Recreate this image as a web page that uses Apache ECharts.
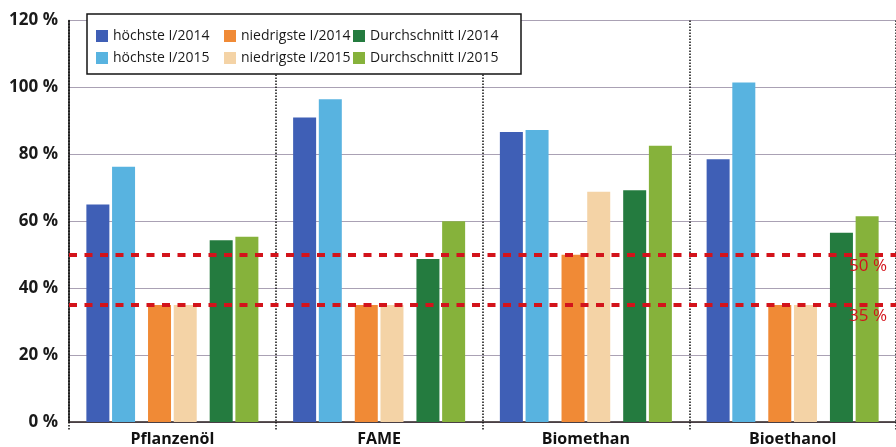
<!DOCTYPE html>
<html>
<head>
<meta charset="utf-8">
<script src="https://cdn.jsdelivr.net/npm/echarts@6/dist/echarts.min.js"></script>
<style>
  html, body { margin: 0; padding: 0; background: #fff; }
  #chart { width: 896px; height: 447px; }
</style>
</head>
<body>
<div id="chart"></div>
<script>
// Fuel categories and shares (in %) for quarter I/2014 and I/2015
const categories = ['Pflanzenöl', 'FAME', 'Biomethan', 'Bioethanol'];
const hoechste2014 = [65, 91, 86.7, 78.5];
const hoechste2015 = [76.3, 96.5, 87.3, 101.5];
const niedrigste2014 = [35, 35, 50, 35];
const niedrigste2015 = [35, 35, 68.8, 35];
const durchschnitt2014 = [54.3, 48.7, 69.3, 56.6];
const durchschnitt2015 = [55.4, 60, 82.6, 61.5];
// Reference thresholds drawn as red dashed lines
const thresholds = [50, 35];
const yTicks = { min: 0, max: 120, step: 20 };

const BAR_W = 23;
const GAP = '11.7%';
const font = '"Open Sans", "Noto Sans", sans-serif';

function barSeries(name, data, color, extra) {
  return Object.assign({
    name: name,
    type: 'bar',
    data: data,
    barWidth: BAR_W,
    barGap: GAP,
    itemStyle: { color: color },
    emphasis: { disabled: true }
  }, extra || {});
}

// Narrow empty series that open a wider gap between bar pairs
function spacer(name) {
  return { name: name, type: 'bar', data: [], barWidth: 9.2, barGap: GAP, silent: true };
}

const thresholdLines = {
  silent: true,
  symbol: 'none',
  lineStyle: { color: '#d3131b', width: 4, type: [8, 7.5] },
  label: {
    position: 'insideEndBottom',
    formatter: '{c} %',
    color: '#d3131b',
    fontSize: 17,
    fontFamily: font,
    distance: [9, 3]
  },
  data: thresholds.map(v => ({ yAxis: v }))
};

const legendBase = {
  orient: 'vertical',
  top: 29,
  padding: 0,
  itemWidth: 12,
  itemHeight: 12,
  itemGap: 8,
  icon: 'rect',
  selectedMode: false,
  textStyle: { fontSize: 14, color: '#1a1a1a', fontFamily: font }
};

const chart = echarts.init(document.getElementById('chart'), null, { renderer: 'canvas' });
chart.setOption({
  backgroundColor: '#fff',
  animation: false,
  grid: { left: 69, top: 20.5, width: 831, height: 402, containLabel: false },
  legend: [
    Object.assign({}, legendBase, { left: 96, data: ['höchste I/2014', 'höchste I/2015'] }),
    Object.assign({}, legendBase, { left: 224, data: ['niedrigste I/2014', 'niedrigste I/2015'] }),
    Object.assign({}, legendBase, { left: 353, data: ['Durchschnitt I/2014', 'Durchschnitt I/2015'] })
  ],
  graphic: [{
    type: 'rect',
    z: 3,
    shape: { x: 87, y: 14, width: 434, height: 60 },
    style: { fill: '#fff', stroke: '#151515', lineWidth: 1.5 }
  }],
  xAxis: {
    type: 'category',
    data: categories,
    boundaryGap: true,
    axisLine: { lineStyle: { color: '#2a1f20', width: 1.5 } },
    axisTick: { show: true, length: 8, lineStyle: { type: 'dotted', color: '#111', width: 1.5 } },
    splitLine: { show: true, lineStyle: { type: 'dotted', color: '#111', width: 1.5 } },
    axisLabel: { fontFamily: font, fontWeight: 'bold', fontSize: 16, color: '#111', margin: 9 }
  },
  yAxis: {
    type: 'value',
    min: yTicks.min,
    max: yTicks.max,
    interval: yTicks.step,
    axisLine: { show: true, lineStyle: { color: '#111', width: 1.5 } },
    axisTick: { show: false },
    splitLine: { lineStyle: { color: '#aaa1b4', width: 1 } },
    axisLabel: { formatter: '{value} %', fontFamily: font, fontWeight: 'bold', fontSize: 17, color: '#1a1a1a', margin: 11 }
  },
  series: [
    barSeries('höchste I/2014', hoechste2014, '#3f5fb6', { markLine: thresholdLines }),
    barSeries('höchste I/2015', hoechste2015, '#58b3e0'),
    spacer('gap-a'),
    barSeries('niedrigste I/2014', niedrigste2014, '#f08a36'),
    barSeries('niedrigste I/2015', niedrigste2015, '#f4d3a6'),
    spacer('gap-b'),
    barSeries('Durchschnitt I/2014', durchschnitt2014, '#247b3f'),
    barSeries('Durchschnitt I/2015', durchschnitt2015, '#86b23b')
  ]
});
</script>
</body>
</html>
